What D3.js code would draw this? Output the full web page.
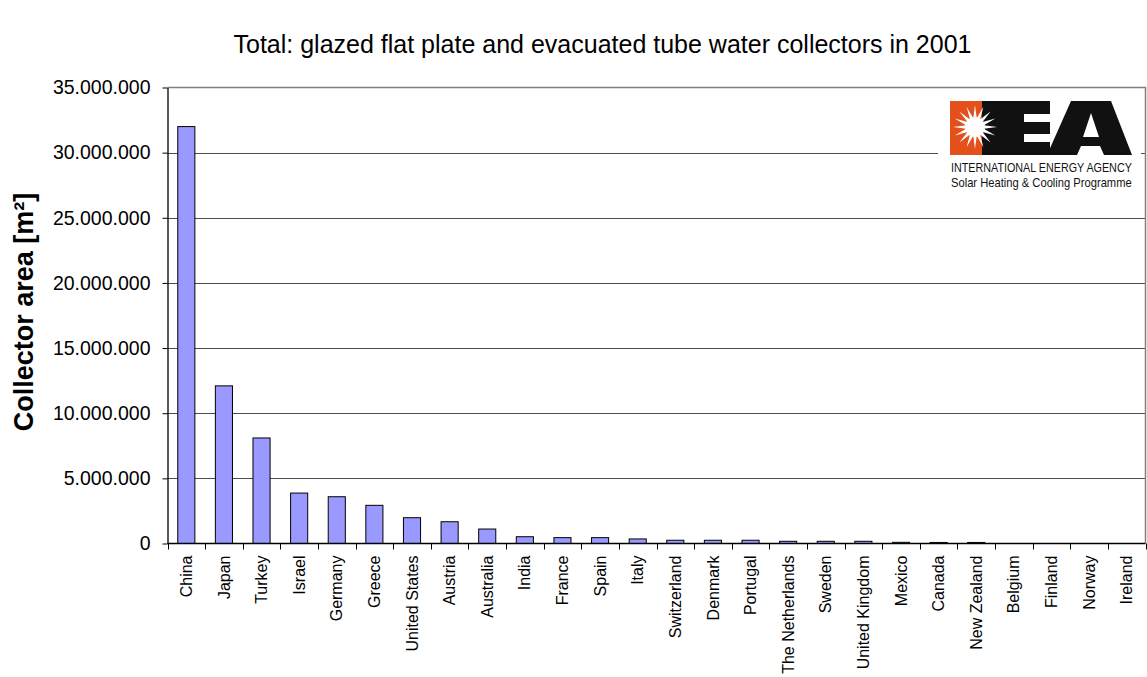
<!DOCTYPE html>
<html>
<head>
<meta charset="utf-8">
<script src="https://cdn.jsdelivr.net/npm/d3@7"></script>
<style>
  body { margin: 0; background: #fff; }
  svg { display: block; font-family: Arial, "Liberation Sans", sans-serif; }
</style>
</head>
<body>
<div id="chart"></div>
<script>
// data
const countries = ["China", "Japan", "Turkey", "Israel", "Germany", "Greece", "United States",
    "Austria", "Australia", "India", "France", "Spain", "Italy", "Switzerland", "Denmark",
    "Portugal", "The Netherlands", "Sweden", "United Kingdom", "Mexico", "Canada",
    "New Zealand", "Belgium", "Finland", "Norway", "Ireland"];
const area = [32000000, 12100000, 8100000, 3870000, 3590000, 2930000, 1980000,
    1670000, 1110000, 520000, 450000, 450000, 350000, 250000, 250000,
    250000, 170000, 170000, 170000, 90000, 80000,
    80000, 20000, 10000, 8000, 5000];
const yTicks = [0, 5000000, 10000000, 15000000, 20000000, 25000000, 30000000, 35000000];

const title = "Total: glazed flat plate and evacuated tube water collectors in 2001";
const yTitle = "Collector area [m²]";

let width = 1147, height = 677;
let pLeft = 167.5, pRight = 1145.5, pTop = 87.5, pBottom = 543.5;

const svg = d3.select("#chart").append("svg")
    .attr("width", width)
    .attr("height", height);

const x = d3.scaleBand()
    .domain(countries)
    .range([pLeft, pRight])
    .padding(0);

const y = d3.scaleLinear()
    .domain([0, 35000000])
    .range([pBottom, pTop]);

const loc = d3.formatLocale({decimal: ",", thousands: ".", grouping: [3], currency: ["", ""]});
const fmt = loc.format(",");

// gridlines
svg.append("g")
    .selectAll("line")
    .data(yTicks.filter(d => d > 0 && d < 35000000))
    .join("line")
        .attr("x1", pLeft)
        .attr("x2", pRight)
        .attr("y1", d => Math.round(y(d)) + 0.5)
        .attr("y2", d => Math.round(y(d)) + 0.5)
        .style("stroke", "#4d4d4d")
        .style("stroke-width", 1);

// plot area border (top + right)
svg.append("path")
    .attr("d", `M${pLeft},${pTop}H${pRight}V${pBottom}`)
    .style("fill", "none")
    .style("stroke", "#808080")
    .style("stroke-width", 1.5);

// bars
const barW = x.bandwidth() / 2.2;
svg.append("g")
    .selectAll("rect")
    .data(countries.map((c, i) => ({name: c, value: area[i]})))
    .join("rect")
        .attr("x", d => x(d.name) + (x.bandwidth() - barW) / 2)
        .attr("y", d => y(d.value))
        .attr("width", barW)
        .attr("height", d => pBottom - y(d.value))
        .style("fill", "#9999ff")
        .style("stroke", d => (pBottom - y(d.value)) < 0.5 ? "none" : "#000")
        .style("stroke-width", 1);

// y axis
const yAxis = svg.append("g")
    .attr("transform", `translate(${pLeft},0)`)
    .call(d3.axisLeft(y).tickValues(yTicks).tickFormat(fmt).tickSize(5).tickPadding(12).tickSizeOuter(0));
yAxis.select(".domain").style("stroke", "#000").style("stroke-width", 1.3);
yAxis.selectAll(".tick line").style("stroke", "#000");
yAxis.selectAll("text")
    .attr("font-size", "19.5px")
    .attr("font-family", "Arial, 'Liberation Sans', sans-serif")
    .attr("fill", "#000");

// x axis
const bounds = countries.map(c => x(c)).concat([pRight]);
svg.append("line")
    .attr("x1", pLeft).attr("x2", pRight)
    .attr("y1", pBottom).attr("y2", pBottom)
    .style("stroke", "#000")
    .style("stroke-width", 1.3);
svg.append("g")
    .selectAll("line")
    .data(bounds)
    .join("line")
        .attr("x1", d => Math.round(d) + 0.5)
        .attr("x2", d => Math.round(d) + 0.5)
        .attr("y1", pBottom)
        .attr("y2", pBottom + 6)
        .style("stroke", "#000");

svg.append("g")
    .selectAll("text")
    .data(countries)
    .join("text")
        .attr("transform", d => `translate(${x(d) + x.bandwidth() / 2},${pBottom + 12}) rotate(-90)`)
        .attr("dy", "0.35em")
        .attr("text-anchor", "end")
        .attr("font-size", "16px")
        .attr("fill", "#000")
        .text(d => d);

// titles
svg.append("text")
    .attr("x", 602.5)
    .attr("y", 53)
    .attr("text-anchor", "middle")
    .attr("font-size", "25px")
    .attr("fill", "#000")
    .text(title);

svg.append("text")
    .attr("transform", "translate(33,312) rotate(-90)")
    .attr("text-anchor", "middle")
    .attr("font-size", "27px")
    .attr("font-weight", "bold")
    .attr("fill", "#000")
    .text(yTitle);

// IEA logo
const logo = svg.append("g");
logo.append("rect")
    .attr("x", 938).attr("y", 94)
    .attr("width", 203).attr("height", 100)
    .style("fill", "#fff");
logo.append("rect")
    .attr("x", 950).attr("y", 101)
    .attr("width", 32).attr("height", 54)
    .style("fill", "#e4501c");
logo.append("path")   // E
    .attr("d", "M982,101H1050V155H982Z M1024,114H1050V122H1024Z M1024,134H1050V142H1024Z")
    .attr("fill-rule", "evenodd")
    .style("fill", "#111");
logo.append("path")   // A
    .attr("d", "M1047,155L1071,101H1111L1132,155H1104L1100,146H1081L1077,155Z M1083,137L1091,113L1099,137Z")
    .attr("fill-rule", "evenodd")
    .style("fill", "#111");
// sunburst
const cx = 975, cy = 127;
const star = d3.range(32).map(i => {
    const a = i * Math.PI / 16;
    const r = i % 2 == 0 ? 22 : 9;
    return [cx + r * Math.cos(a), cy + r * Math.sin(a)];
});
logo.append("path")
    .attr("d", d3.line()(star) + "Z")
    .style("fill", "#fff");
logo.append("circle")
    .attr("cx", cx).attr("cy", cy).attr("r", 10)
    .style("fill", "#fff");

// logo captions, squeezed horizontally to the logo width
[["INTERNATIONAL ENERGY AGENCY", 172], ["Solar Heating & Cooling Programme", 187]].forEach(([t, by]) => {
    const txt = logo.append("text")
        .attr("x", 0).attr("y", 0)
        .attr("font-size", "13px")
        .attr("fill", "#111")
        .text(t);
    const len = txt.node().getComputedTextLength();
    txt.attr("transform", `translate(951,${by}) scale(${181 / len},1)`);
});
</script>
</body>
</html>
